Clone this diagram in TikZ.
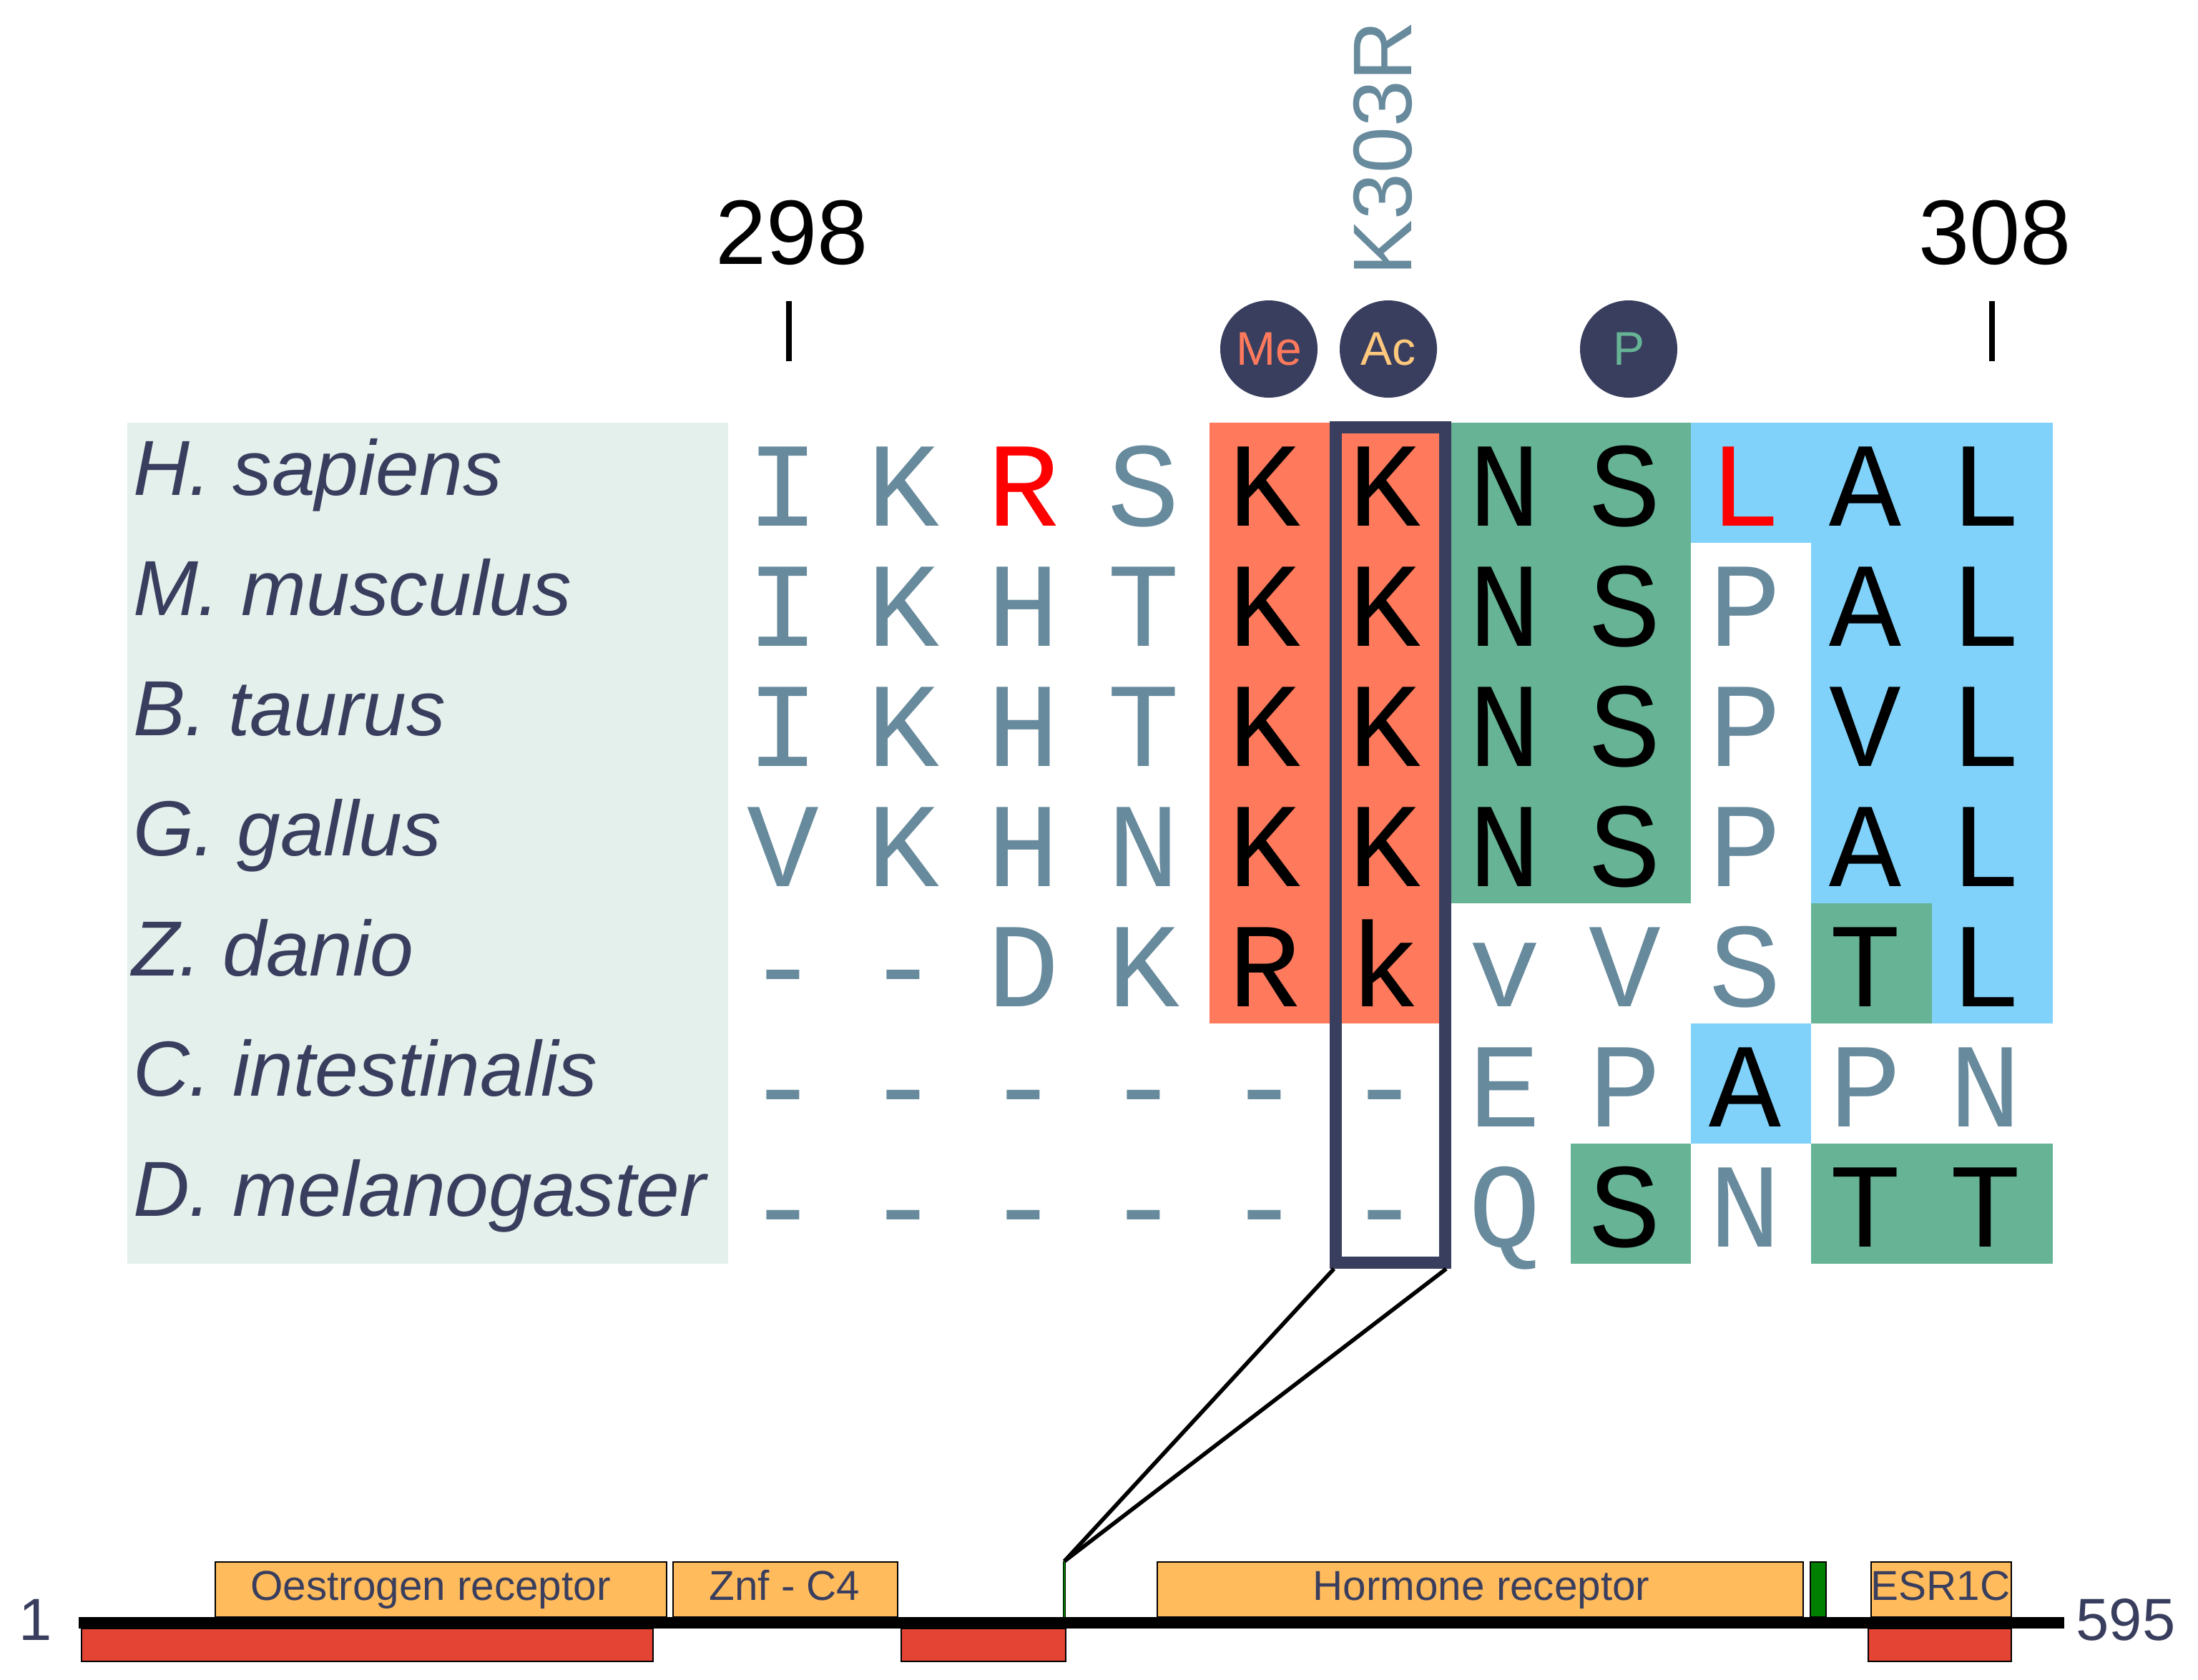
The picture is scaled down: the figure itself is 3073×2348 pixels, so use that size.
\documentclass[tikz,border=0pt]{standalone}
\usepackage{fontspec}
\setmainfont{Liberation Sans}
\newfontfamily\monof{Liberation Mono}
\definecolor{slate}{HTML}{678A9C}
\definecolor{navy}{HTML}{393E5E}
\definecolor{orng}{HTML}{FF7A5C}
\definecolor{grn}{HTML}{66B395}
\definecolor{blu}{HTML}{80D2FA}
\definecolor{pale}{HTML}{E3F0EB}
\definecolor{amber}{HTML}{FFBB5C}
\definecolor{brick}{HTML}{E44433}
\definecolor{dgreen}{HTML}{008000}
\tikzset{
 every node/.style={inner sep=0pt,outer sep=0pt},
 res/.style={anchor=base,font=\monof\fontsize{42}{42}\selectfont},
 resg/.style={res,text=slate},
 resb/.style={res,text=black},
 resr/.style={res,text=red},
 species/.style={anchor=base west,text=navy,font=\itshape\fontsize{27.3}{27.3}\selectfont},
 posn/.style={anchor=base,text=black,font=\fontsize{32}{32}\selectfont},
 ptm/.style={circle,fill=navy,minimum size=136*0.25pt,font=\fontsize{16.5}{16.5}\selectfont},
 dom/.style={draw=black,line width=0.5pt,fill=amber},
 domtext/.style={anchor=base,text=navy,font=\fontsize{14.6}{14.6}\selectfont},
 red box/.style={draw=black,line width=0.4pt,fill=brick},
 ends/.style={anchor=base,text=navy,font=\fontsize{20.8}{20.8}\selectfont},
 conn/.style={draw=black,line width=1.4pt},
 tick/.style={draw=black,line width=2pt},
}
\begin{document}
\begin{tikzpicture}[x=0.25pt,y=-0.25pt]
\useasboundingbox (0,0) rectangle (3073,2348);
% panels
\fill[pale] (178,591) rectangle (1018,1767);
\fill[orng] (1691,591) rectangle (2029,1431);
\fill[grn] (2029,591) rectangle (2364,1263);
\fill[blu] (2364,591) rectangle (2532,759);
\fill[blu] (2532,591) rectangle (2870,1263);
\fill[grn] (2532,1263) rectangle (2700.5,1431);
\fill[blu] (2700.5,1263) rectangle (2870,1431);
\fill[blu] (2364,1431) rectangle (2532,1599);
\fill[grn] (2195.5,1599) rectangle (2364,1767);
\fill[grn] (2532,1599) rectangle (2870,1767);
% species
\node[species] (s0) at (186,692) {H. sapiens};
\node[species] (s1) at (186,860) {M. musculus};
\node[species] (s2) at (186,1028) {B. taurus};
\node[species] (s3) at (186,1196) {G. gallus};
\node[species] (s4) at (184,1364) {Z. danio};
\node[species] (s5) at (186,1532) {C. intestinalis};
\node[species] (s6) at (186,1700) {D. melanogaster};
% residues
\foreach \c/\l/\s in {0/I/resg,1/K/resg,2/R/resr,3/S/resg,4/K/resb,5/K/resb,6/N/resb,7/S/resb,8/L/resr,9/A/resb,10/L/resb}
  \node[\s] (a\c) at ({1095+168.1*\c},735) {\l};
\foreach \c/\l/\s in {0/I/resg,1/K/resg,2/H/resg,3/T/resg,4/K/resb,5/K/resb,6/N/resb,7/S/resb,8/P/resg,9/A/resb,10/L/resb}
  \node[\s] (b\c) at ({1095+168.1*\c},903) {\l};
\foreach \c/\l/\s in {0/I/resg,1/K/resg,2/H/resg,3/T/resg,4/K/resb,5/K/resb,6/N/resb,7/S/resb,8/P/resg,9/V/resb,10/L/resb}
  \node[\s] (d\c) at ({1095+168.1*\c},1071) {\l};
\foreach \c/\l/\s in {0/V/resg,1/K/resg,2/H/resg,3/N/resg,4/K/resb,5/K/resb,6/N/resb,7/S/resb,8/P/resg,9/A/resb,10/L/resb}
  \node[\s] (e\c) at ({1095+168.1*\c},1239) {\l};
\foreach \c/\l/\s in {0/-/resg,1/-/resg,2/D/resg,3/K/resg,4/R/resb,5/k/resb,6/v/resg,7/V/resg,8/S/resg,9/T/resb,10/L/resb}
  \node[\s] (f\c) at ({1095+168.1*\c},1407) {\l};
\foreach \c/\l/\s in {0/-/resg,1/-/resg,2/-/resg,3/-/resg,4/-/resg,5/-/resg,6/E/resg,7/P/resg,8/A/resb,9/P/resg,10/N/resg}
  \node[\s] (g\c) at ({1095+168.1*\c},1575) {\l};
\foreach \c/\l/\s in {0/-/resg,1/-/resg,2/-/resg,3/-/resg,4/-/resg,5/-/resg,6/Q/resg,7/S/resb,8/N/resg,9/T/resb,10/T/resb}
  \node[\s] (h\c) at ({1095+168.1*\c},1743) {\l};
% position labels and ticks
\node[posn] (p298) at (1107,369) {298};
\node[posn] (p308) at (2789,369) {308};
\coordinate (t1a) at (1103,421); \coordinate (t1b) at (1103,505);
\coordinate (t2a) at (2785,421); \coordinate (t2b) at (2785,505);
\draw[tick] (t1a) -- (t1b);
\draw[tick] (t2a) -- (t2b);
% mutation
\node[anchor=base west,rotate=90,text=slate,font=\fontsize{29.1}{29.1}\selectfont] (mut) at (1973,385) {K303R};
% PTM circles
\node[ptm,text=orng] (me) at (1774,488) {Me};
\node[ptm,text=amber!80!white] (ac) at (1941,488) {Ac};
\node[ptm,text=grn] (ph) at (2277,488) {P};
% frame
\node[draw=navy,line width=17*0.25pt,minimum width=153*0.25pt,minimum height=1168.5*0.25pt,anchor=north west] (frame) at (1867.5,597) {};
% domain architecture
\node[dom,minimum width=631*0.25pt,minimum height=77*0.25pt,anchor=north west] (d1) at (301,2184) {};
\node[dom,minimum width=314*0.25pt,minimum height=77*0.25pt,anchor=north west] (d2) at (941,2184) {};
\node[dom,minimum width=903*0.25pt,minimum height=77*0.25pt,anchor=north west] (d3) at (1618,2184) {};
\node[draw=black,line width=0.5pt,fill=dgreen,minimum width=22*0.25pt,minimum height=77*0.25pt,anchor=north west] (d4) at (2531,2184) {};
\node[dom,minimum width=196*0.25pt,minimum height=77*0.25pt,anchor=north west] (d5) at (2616,2184) {};
\node[red box,minimum width=799*0.25pt,minimum height=46*0.25pt,anchor=north west] (r1) at (114,2277) {};
\node[red box,minimum width=230*0.25pt,minimum height=46*0.25pt,anchor=north west] (r2) at (1260,2277) {};
\node[red box,minimum width=200*0.25pt,minimum height=46*0.25pt,anchor=north west] (r3) at (2612,2277) {};
\node[fill=black,minimum width=2776*0.25pt,minimum height=16*0.25pt,anchor=north west] (bar) at (110,2261) {};
\node[domtext] (l1) at (602,2237) {Oestrogen receptor};
\node[domtext] (l2) at (1097,2237) {Znf - C4};
\node[domtext] (l3) at (2071,2237) {Hormone receptor};
\node[domtext] (l5) at (2713,2237) {ESR1C};
\node[ends] (e1) at (50,2293) {1};
\node[ends] (e2) at (2972,2293) {595};
% connectors
\coordinate (hub) at (1488,2183);
\coordinate (hubbase) at (1488,2261);
\coordinate (fl) at (1865,1774);
\coordinate (fr) at (2022,1774);
\draw[draw=black,line width=1.05pt] (hub) -- (hubbase);
\draw[draw=dgreen,line width=0.5pt] (hub) -- (hubbase);
\draw[conn] (fl) -- (hub);
\draw[conn] (fr) -- (hub);
\end{tikzpicture}
\end{document}
